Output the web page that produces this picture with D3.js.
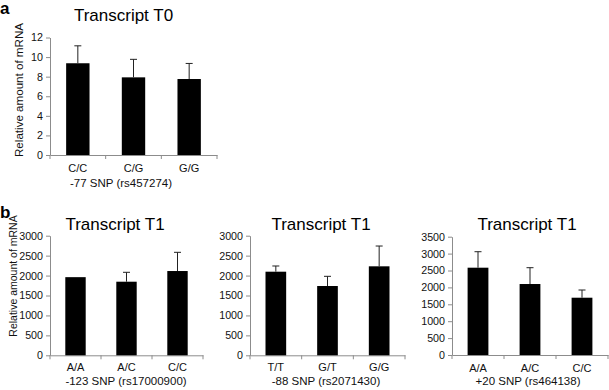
<!DOCTYPE html>
<html>
<head>
<meta charset="utf-8">
<script src="https://cdn.jsdelivr.net/npm/d3@7"></script>
<style>
  html, body { margin: 0; padding: 0; background: #fff; }
  svg { display: block; font-family: "Liberation Sans", Arial, sans-serif; }
</style>
</head>
<body>
<svg id="chart" width="609" height="390"></svg>
<script>
// ---- Data ----
const categoriesA = ["C/C", "C/G", "G/G"];
const valuesA = [9.37, 7.93, 7.76];
const errorsA = [1.78, 1.84, 1.59];
const yTicksA = [0, 2, 4, 6, 8, 10, 12];

const categoriesB1 = ["A/A", "A/C", "C/C"];
const valuesB1 = [1960, 1846, 2114];
const errorsB1 = [0, 236, 469];

const categoriesB2 = ["T/T", "G/T", "G/G"];
const valuesB2 = [2097, 1738, 2232];
const errorsB2 = [143, 243, 509];

const categoriesB3 = ["A/A", "A/C", "C/C"];
const valuesB3 = [2583, 2100, 1695];
const errorsB3 = [473, 483, 228];

const yTicksB = [0, 500, 1000, 1500, 2000, 2500, 3000];
const yTicksB3 = [0, 500, 1000, 1500, 2000, 2500, 3000, 3500];

const titlesText = ["Transcript T0", "Transcript T1", "Transcript T1", "Transcript T1"];
const xTitles = ["-77 SNP (rs457274)", "-123 SNP (rs17000900)", "-88 SNP (rs2071430)", "+20 SNP (rs464138)"];
const yLabel = "Relative amount of mRNA";

// ---- Layout ----
const svg = d3.select("#chart");
const AXIS = "#8c8c8c";
const FONT = "Liberation Sans, Arial, sans-serif";

const panels = [
  { cats: categoriesA, vals: valuesA, errs: errorsA, ticks: yTicksA, x0: 50, x1: 217, yTop: 37.5, yBot: 155,
    pad: 0.58, title: titlesText[0], titleX: 123.5, titleY: 20.5, xTitle: xTitles[0], xTitleX: 121, tickLabY: 172, xTitleY: 187 },
  { cats: categoriesB1, vals: valuesB1, errs: errorsB1, ticks: yTicksB, x0: 50, x1: 203, yTop: 235.7, yBot: 355.3,
    pad: 0.6, title: titlesText[1], titleX: 115, titleY: 229.5, xTitle: xTitles[1], xTitleX: 126, tickLabY: 371.5, xTitleY: 384.5 },
  { cats: categoriesB2, vals: valuesB2, errs: errorsB2, ticks: yTicksB, x0: 250, x1: 405, yTop: 235.7, yBot: 355.3,
    pad: 0.6, title: titlesText[2], titleX: 321, titleY: 229.5, xTitle: xTitles[2], xTitleX: 326, tickLabY: 371.5, xTitleY: 384.5 },
  { cats: categoriesB3, vals: valuesB3, errs: errorsB3, ticks: yTicksB3, x0: 452, x1: 608, yTop: 236.7, yBot: 355,
    pad: 0.6, title: titlesText[3], titleX: 527, titleY: 229.5, xTitle: xTitles[3], xTitleX: 528, tickLabY: 371.5, xTitleY: 384.5 }
];

panels.forEach(p => {
  const g = svg.append("g");
  const x = d3.scaleBand().domain(p.cats).range([p.x0, p.x1])
    .paddingInner(p.pad).paddingOuter(p.pad / 2);
  const y = d3.scaleLinear().domain([0, d3.max(p.ticks)]).range([p.yBot, p.yTop]);

  // y axis
  const ya = g.append("g").attr("transform", `translate(${p.x0},0)`)
    .call(d3.axisLeft(y).tickValues(p.ticks).tickFormat(d3.format("d"))
      .tickSize(4).tickSizeOuter(0).tickPadding(3));
  ya.select(".domain").attr("stroke", AXIS);
  ya.selectAll(".tick line").attr("stroke", AXIS);
  ya.selectAll(".tick text").attr("font-size", 10.7).attr("fill", "#111").attr("font-family", FONT);

  // x axis
  const xa = g.append("g").attr("transform", `translate(0,${p.yBot})`)
    .call(d3.axisBottom(x).tickSize(0).tickSizeOuter(0).tickPadding(0));
  xa.select(".domain").attr("stroke", AXIS);
  xa.selectAll(".tick text").attr("font-size", 11).attr("fill", "#111").attr("font-family", FONT)
    .attr("dy", null).attr("y", p.tickLabY - p.yBot);
  // category boundary tick marks
  const bounds = d3.range(p.cats.length + 1).map(i => x.range()[0] + i * x.step());
  g.selectAll(".bt").data(bounds).join("line")
    .attr("x1", d => d).attr("x2", d => d)
    .attr("y1", p.yBot).attr("y2", p.yBot + 4)
    .attr("stroke", AXIS);

  // bars
  g.selectAll(".bar").data(p.cats).join("rect")
    .attr("x", d => x(d)).attr("width", x.bandwidth())
    .attr("y", (d, i) => y(p.vals[i]))
    .attr("height", (d, i) => y(0) - y(p.vals[i]))
    .attr("fill", "#000");

  // error bars (upper)
  const capW = 3.5;
  p.cats.forEach((c, i) => {
    if (!p.errs[i]) return;
    const cx = x(c) + x.bandwidth() / 2;
    g.append("line").attr("x1", cx).attr("x2", cx)
      .attr("y1", y(p.vals[i])).attr("y2", y(p.vals[i] + p.errs[i]))
      .attr("stroke", "#222").attr("stroke-width", 1);
    g.append("line").attr("x1", cx - capW).attr("x2", cx + capW)
      .attr("y1", y(p.vals[i] + p.errs[i])).attr("y2", y(p.vals[i] + p.errs[i]))
      .attr("stroke", "#222").attr("stroke-width", 1);
  });

  // title
  g.append("text").attr("x", p.titleX).attr("y", p.titleY)
    .attr("text-anchor", "middle").attr("font-size", 17).attr("fill", "#000")
    .text(p.title);

  // x title
  g.append("text").attr("x", p.xTitleX).attr("y", p.xTitleY)
    .attr("text-anchor", "middle").attr("font-size", 11.5).attr("fill", "#111")
    .text(p.xTitle);
});

// y labels
svg.append("text").attr("transform", "translate(23,90) rotate(-90)")
  .attr("text-anchor", "middle").attr("font-size", 11.6).attr("fill", "#111").text(yLabel);
svg.append("text").attr("transform", "translate(17,276) rotate(-90)")
  .attr("text-anchor", "middle").attr("font-size", 10.5).attr("fill", "#111").text(yLabel);

// panel letters
svg.append("text").attr("x", 0).attr("y", 14).attr("font-size", 17).attr("font-weight", "bold").text("a");
svg.append("text").attr("x", 0).attr("y", 218).attr("font-size", 17).attr("font-weight", "bold").text("b");
</script>
</body>
</html>
